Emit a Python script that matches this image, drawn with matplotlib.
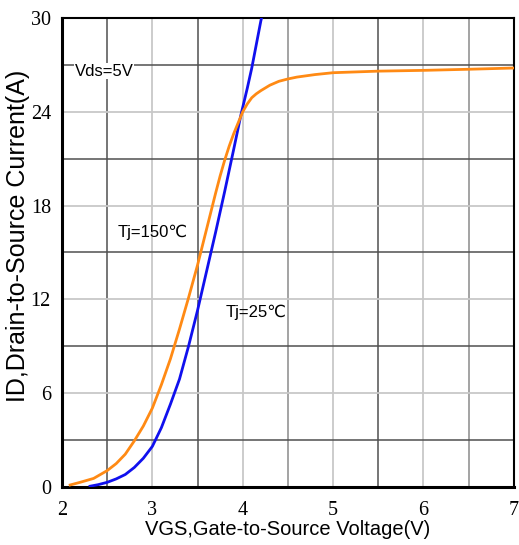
import matplotlib
matplotlib.use('Agg')
import matplotlib.pyplot as plt

# DATA
vgs_25 = [2.31, 2.4, 2.5, 2.6, 2.7, 2.8, 2.9, 3.0, 3.1, 3.2, 3.3, 3.4, 3.5,
          3.6, 3.7, 3.8, 3.9, 3.98, 4.05, 4.1, 4.2, 4.22]
id_25 = [0.05, 0.15, 0.3, 0.52, 0.8, 1.25, 1.84, 2.6, 3.8, 5.3, 6.9, 9.0,
         11.3, 13.8, 16.3, 18.9, 21.6, 23.8, 25.5, 26.8, 29.8, 30.3]

vgs_150 = [2.09, 2.2, 2.35, 2.5, 2.6, 2.7, 2.8, 2.9, 3.0, 3.1, 3.2, 3.3,
           3.4, 3.5, 3.6, 3.7, 3.75, 3.8, 3.85, 3.9, 3.95, 4.0, 4.05, 4.1,
           4.15, 4.2, 4.3, 4.4, 4.5, 4.6, 4.8, 5.0, 5.5, 6.0, 6.5, 7.0]
id_150 = [0.13, 0.3, 0.55, 1.05, 1.5, 2.1, 2.95, 3.9, 5.05, 6.55, 8.2, 10.1,
          12.1, 14.2, 16.5, 18.8, 19.9, 20.9, 21.8, 22.6, 23.3, 24.0, 24.5,
          24.9, 25.15, 25.35, 25.7, 25.95, 26.1, 26.22, 26.38, 26.5, 26.6,
          26.65, 26.72, 26.8]

x_ticks = [2, 3, 4, 5, 6, 7]
y_ticks = [0, 6, 12, 18, 24, 30]

SANS = ['Liberation Sans', 'DejaVu Sans']
SERIF = ['Liberation Serif', 'DejaVu Serif']

fig = plt.figure(figsize=(5.19, 5.45), dpi=100)
ax = fig.add_axes([0.1195, 0.1064, 0.8705, 0.8606])

ax.set_xlim(2, 7)
ax.set_ylim(0, 30)

# GRID
for v in [2.5, 3.5, 4.5, 5.5, 6.5]:
    c = '#505050' if v in (2.5, 3.5, 5.5) else '#8a8a8a'
    ax.axvline(v, color=c, lw=1.1, zorder=1)
for v in [3, 4, 5, 6]:
    ax.axvline(v, color='#c8c8c8', lw=1.3, zorder=1)
for v in [3, 9, 15, 21, 27]:
    ax.axhline(v, color='#505050', lw=1.1, zorder=1)
for v in [6, 12, 18, 24]:
    ax.axhline(v, color='#c8c8c8', lw=1.3, zorder=1)

# CURVES
ax.plot(vgs_25, id_25, color='#1010ee', lw=2.0, zorder=3)
ax.plot(vgs_150, id_150, color='#ff8a14', lw=2.0, zorder=3)

# ANNOTATIONS
ax.text(2.14, 26.6, 'Vds=5V', family=SANS, fontsize=12, va='center',
        zorder=4, bbox=dict(fc='white', ec='none', pad=0.5))
ax.text(2.62, 16.3, 'Tj=150\u2103', family=SANS, fontsize=12, va='center',
        zorder=4)
ax.text(3.81, 11.2, 'Tj=25\u2103', family=SANS, fontsize=12, va='center',
        zorder=4)

# AXES
ax.set_xticks(x_ticks)
ax.set_yticks(y_ticks)
ax.set_xticklabels([str(t) for t in x_ticks], family=SERIF, fontsize=14.5)
ax.set_yticklabels([str(t) for t in y_ticks], family=SERIF, fontsize=14.5)
ax.tick_params(length=0, pad=8)
ax.tick_params(axis='x', pad=10)

for side in ['top', 'right']:
    ax.spines[side].set_linewidth(1.5)
for side in ['bottom', 'left']:
    ax.spines[side].set_linewidth(2.2)

ax.set_xlabel('VGS,Gate-to-Source Voltage(V)', family=SANS, fontsize=14.5)
ax.xaxis.set_label_coords(0.5, -0.07)
ax.set_ylabel('ID,Drain-to-Source Current(A)', family=SANS, fontsize=18)
ax.yaxis.set_label_coords(-0.07, 0.535)

fig.savefig('out.png', dpi=100)
